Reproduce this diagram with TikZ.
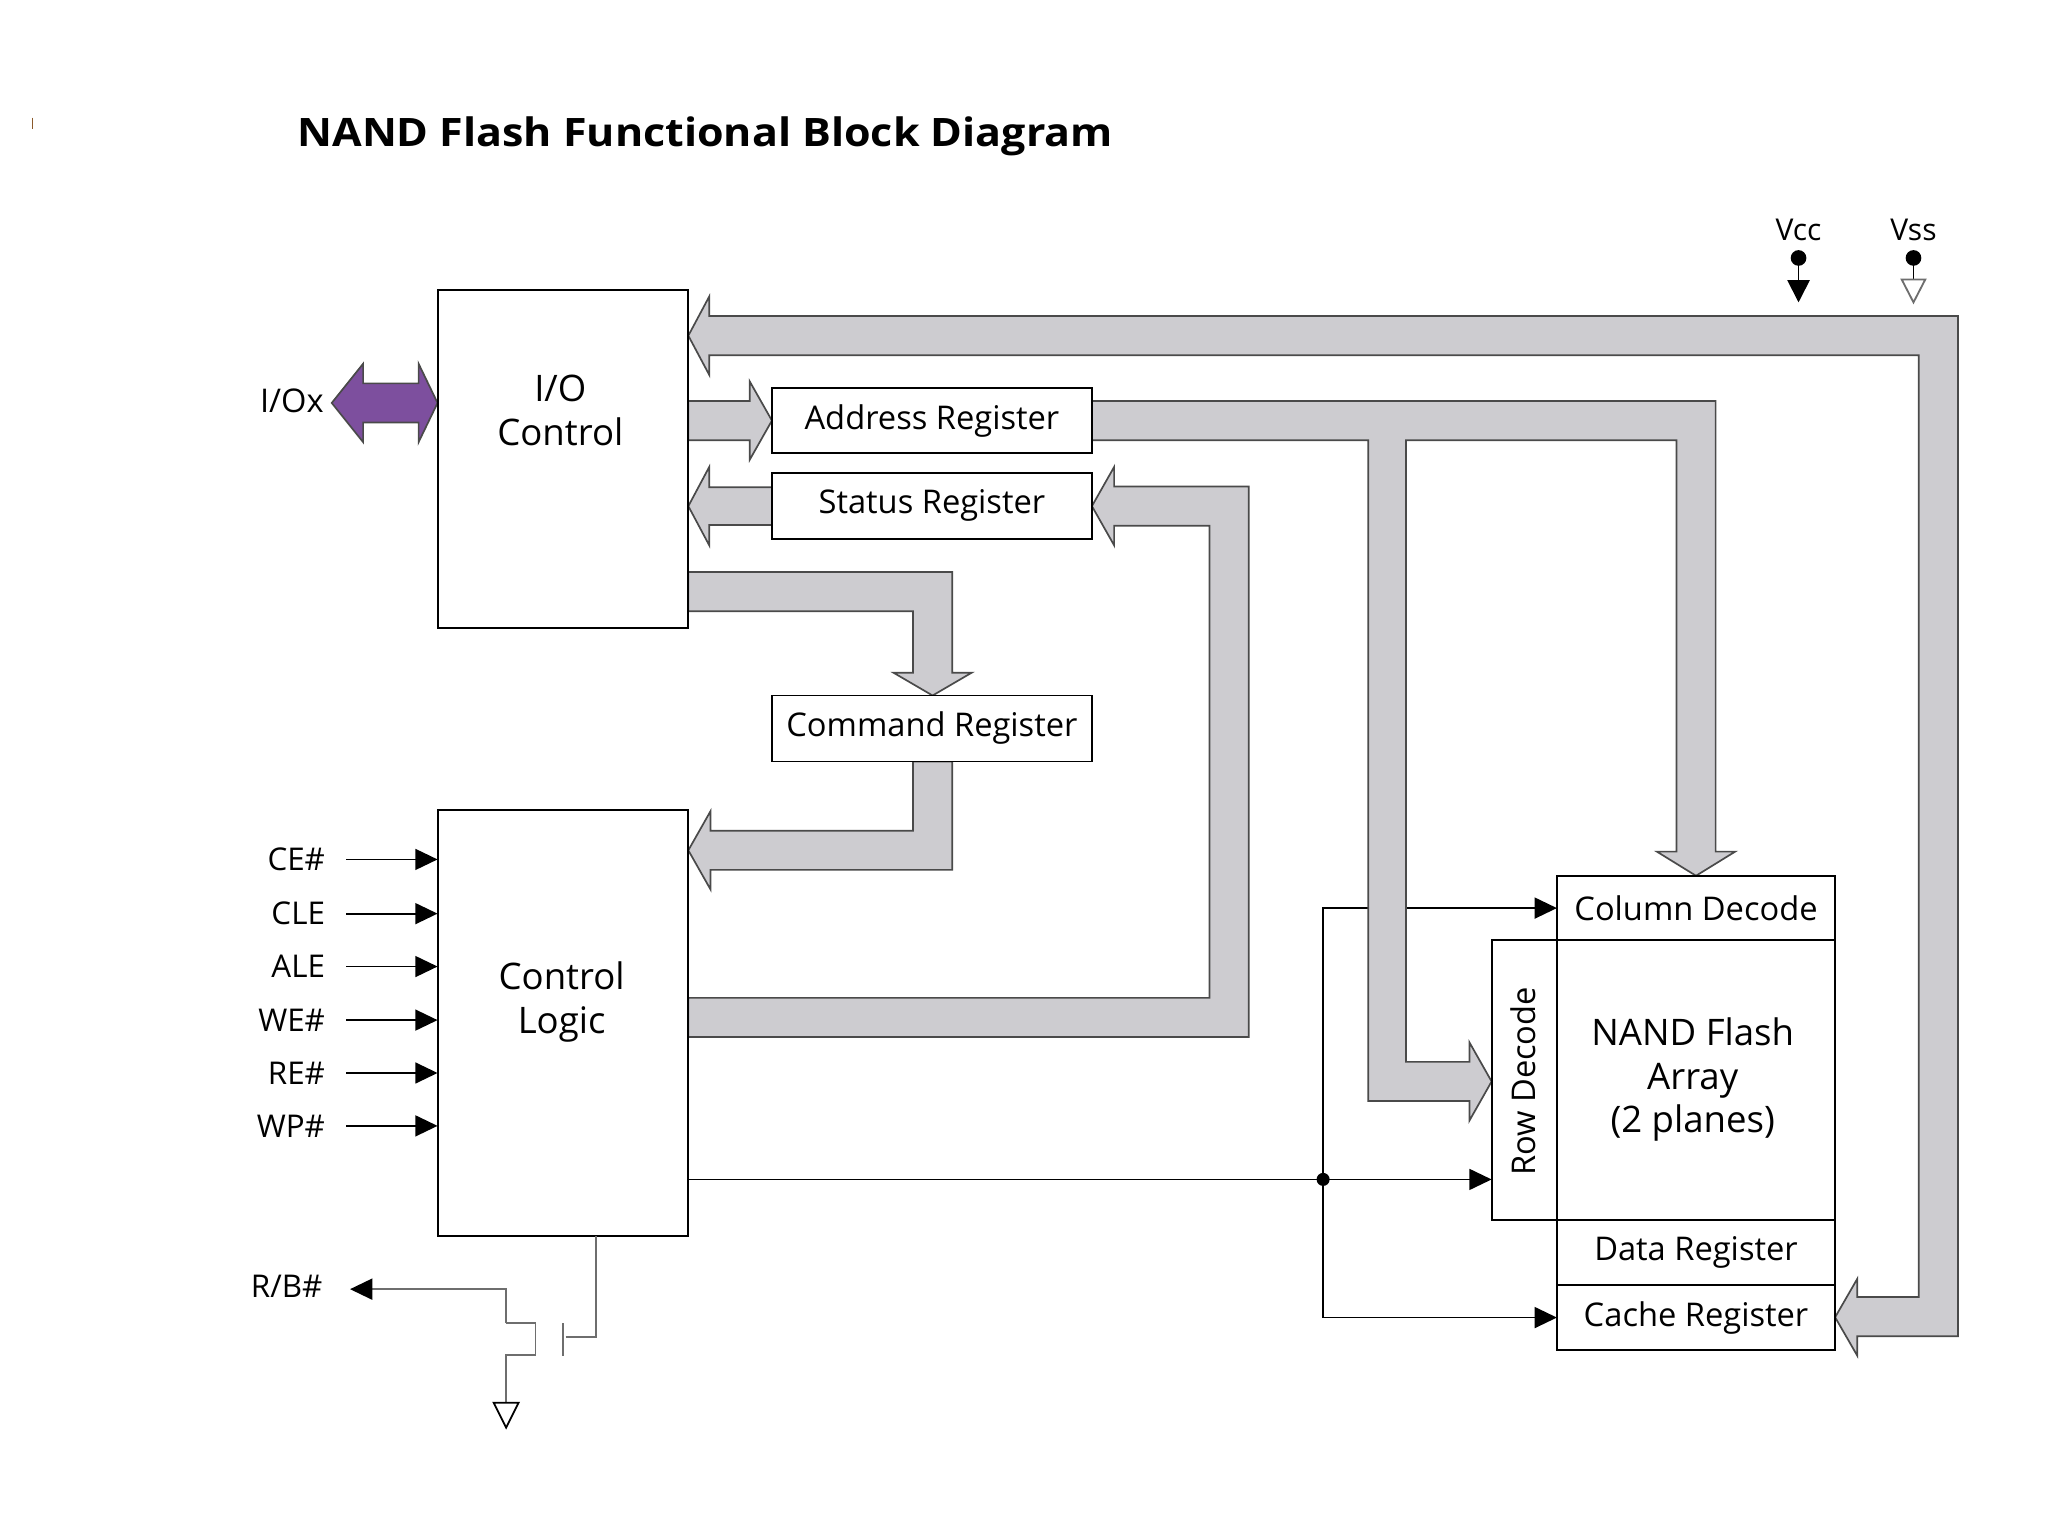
\documentclass[tikz,border=0pt]{standalone}
\usepackage{fontspec}
\setmainfont{Open Sans}
\usetikzlibrary{arrows.meta,calc}
\pgfdeclarelayer{bg}
\pgfsetlayers{bg,main}
\definecolor{busfill}{HTML}{CDCCD0}
\definecolor{busline}{HTML}{4A4A4A}
\definecolor{iopurple}{HTML}{7D4F9E}
\definecolor{wiregray}{HTML}{6E6E6E}
\definecolor{tick}{HTML}{8B5A2B}
\begin{document}
\begin{tikzpicture}[x=1pt,y=-1pt,
  blk/.style={draw=black,line width=1.5pt,fill=white,inner sep=0pt,outer sep=0pt},
  lbl/.style={inner sep=0pt,font=\fontsize{25}{30}\selectfont},
  biglbl/.style={inner sep=0pt,align=center,font=\fontsize{28}{34}\selectfont},
  pinlbl/.style={inner sep=0pt,anchor=east,font=\fontsize{24}{28}\selectfont},
  bus/.style={fill=busfill,draw=busline,line width=1.3pt,line join=miter},
  tip/.style={-{Triangle[length=17pt,width=16pt]}},
  sig/.style={draw=black,line width=1.4pt,tip},
  wire/.style={draw=wiregray,line width=1.5pt},
]
\useasboundingbox (0,0) rectangle (1568,1175);

% ---------- blocks ----------
\node[blk,minimum width=192pt,minimum height=259pt] (io) at (431,351.5) {};
\node[biglbl] (iotext) at (429,314) {I/O\\Control};
\node[blk,minimum width=245pt,minimum height=50pt] (addr) at (713.5,322) {};
\node[lbl] (addrtext) at (713.5,322) {Address Register};
\node[blk,minimum width=245pt,minimum height=50.5pt] (status) at (713.5,387.25) {};
\node[lbl] (statustext) at (713.5,387.25) {Status Register};
\node[blk,minimum width=245pt,minimum height=50.5pt] (cmd) at (713.5,557.75) {};
\node[lbl] (cmdtext) at (713.5,557.75) {Command Register};
\node[blk,minimum width=192pt,minimum height=326pt] (ctrl) at (431,783) {};
\node[biglbl] (ctrltext) at (430,767) {Control\\Logic};

\node[blk,minimum width=213pt,minimum height=49.5pt] (coldec) at (1298.5,695.25) {};
\node[lbl] (coldectext) at (1298.5,695.25) {Column Decode};
\node[blk,minimum width=213pt,minimum height=214pt] (array) at (1298.5,827) {};
\node[biglbl,font=\fontsize{28}{33.5}\selectfont] (arraytext) at (1296,826.5) {NAND Flash\\Array\\(2 planes)};
\node[blk,minimum width=50pt,minimum height=214pt] (rowdec) at (1167,827) {};
\node[lbl,rotate=90] (rowdectext) at (1166,828) {Row Decode};
\node[blk,minimum width=213pt,minimum height=50pt] (datareg) at (1298.5,959) {};
\node[lbl] (datatext) at (1298.5,959) {Data Register};
\node[blk,minimum width=213pt,minimum height=49.5pt] (cachereg) at (1298.5,1008.75) {};
\node[lbl] (cachetext) at (1298.5,1008.75) {Cache Register};

% ---------- title and labels ----------
\node[anchor=base west,inner sep=0pt,font=\bfseries\fontsize{30}{36}\selectfont] (title) at (227.5,112.3) {\scalebox{1.097}[1]{NAND Flash Functional Block Diagram}};
\draw[tick,line width=1.2pt] (25,90) -- (25,99);

\node[pinlbl,font=\fontsize{25}{30}\selectfont] (iox) at (248,307) {I/Ox};
\node[lbl,font=\fontsize{23}{28}\selectfont] (vcc) at (1377,176) {Vcc};
\node[lbl,font=\fontsize{23}{28}\selectfont] (vss) at (1465,176) {Vss};

% ---------- power pins ----------
\coordinate (vccdot) at (1377,197.5);
\coordinate (vssdot) at (1465,197.5);
\fill (vccdot) circle (6pt);
\fill (vssdot) circle (6pt);
\draw[line width=1.4pt,-{Triangle[length=17pt,width=17pt]}] (vccdot) -- ++(0,34);
\draw[line width=1.4pt] (vssdot) -- ++(0,16.5);
\draw[draw=wiregray,line width=1.4pt,line join=miter] (1456,214) -- (1474,214) -- (1465,231.5) -- cycle;

% ---------- control input pins ----------
\node[pinlbl] (lce) at (249,658) {CE\#};
\node[pinlbl] (lcle) at (249,699.5) {CLE};
\node[pinlbl] (lale) at (249,740) {ALE};
\node[pinlbl] (lwe) at (249,781) {WE\#};
\node[pinlbl] (lre) at (249,821.5) {RE\#};
\node[pinlbl] (lwp) at (249,862) {WP\#};
\coordinate (sce) at (265,658);
\coordinate (scle) at (265,699.5);
\coordinate (sale) at (265,740);
\coordinate (swe) at (265,781);
\coordinate (sre) at (265,821.5);
\coordinate (swp) at (265,862);
\draw[sig] (sce) -- (sce -| ctrl.west);
\draw[sig] (scle) -- (scle -| ctrl.west);
\draw[sig] (sale) -- (sale -| ctrl.west);
\draw[sig] (swe) -- (swe -| ctrl.west);
\draw[sig] (sre) -- (sre -| ctrl.west);
\draw[sig] (swp) -- (swp -| ctrl.west);

% ---------- R/B# output transistor ----------
\node[pinlbl] (lrb) at (247,985) {R/B\#};
\coordinate (rbtip) at (268,987);
\coordinate (dr) at (387.5,1013);
\coordinate (gnd) at (387.5,1074);
\coordinate (gate) at (456,1023.5);
\draw[wire,-{Triangle[length=17pt,width=16pt,black]}] (dr) -- (dr |- rbtip) -- (rbtip);
\draw[wire] (dr) -- (410,1013) -- (410,1037.5) -- (387.5,1037.5) -- (gnd);
\draw[draw=black,line width=1.4pt,line join=miter] (378,1074) -- (397,1074) -- (gnd |- 0,1093) -- cycle;
\draw[wire] (431,1013) -- (431,1038);
\draw[wire] (433,1023.5) -- (gate) -- (gate |- ctrl.south);

% ---------- control logic to array ----------
\coordinate (jn) at (1013,903);
\draw[sig] (ctrl.east |- jn) -- (rowdec.west |- jn);
\fill (jn) circle (5pt);

\begin{pgfonlayer}{bg}
\fill[white] (0,0) rectangle (1568,1175);
\draw[line width=1.4pt,{Triangle[length=17pt,width=16pt]}-{Triangle[length=17pt,width=16pt]}]
  (coldec.west) -- (jn |- coldec.west) -- (jn |- cachereg.west) -- (cachereg.west);

% I/Ox purple double arrow
\draw[fill=iopurple,draw=busline,line width=1.3pt,line join=miter]
  (254,308.5) -- (278,278.5) -- (278,293.5) -- (320.5,293.5) -- (320.5,278.5) -- (io.west |- 0,308.5)
  -- (320.5,338.5) -- (320.5,323.5) -- (278,323.5) -- (278,338.5) -- cycle;

% cache register -> I/O control (outer loop)
\draw[bus] (527,257) -- (543,227) -- (543,242) -- (1499,242) -- (1499,1023) -- (1422,1023)
  -- (1422,1038) -- (1405,1008.5) -- (1422,979) -- (1422,993) -- (1469,993) -- (1469,272)
  -- (543,272) -- (543,287) -- cycle;
% I/O -> address register
\draw[bus] (527,307) -- (574,307) -- (574,292) -- (591,322) -- (574,352) -- (574,337) -- (527,337) -- cycle;
% status register -> I/O
\draw[bus] (591,373) -- (543,373) -- (543,357.5) -- (527,387.5) -- (543,417.5) -- (543,402) -- (591,402) -- cycle;
% control logic -> status register
\draw[bus] (527,764) -- (926,764) -- (926,402.5) -- (853,402.5) -- (853,417.5) -- (836,387.5)
  -- (853,357.5) -- (853,372.5) -- (956,372.5) -- (956,794) -- (527,794) -- cycle;
% I/O -> command register
\draw[bus] (527,438) -- (729,438) -- (729,515) -- (744,515) -- (714,532.5) -- (684,515)
  -- (699,515) -- (699,468) -- (527,468) -- cycle;
% command register -> control logic
\draw[bus] (699,583) -- (729,583) -- (729,666) -- (544,666) -- (544,681) -- (527,651)
  -- (544,621) -- (544,636) -- (699,636) -- cycle;
% address register -> column decode and row decode
\draw[bus] (836,307) -- (1313.5,307) -- (1313.5,652) -- (1328.5,652) -- (1298.5,670.5)
  -- (1268.5,652) -- (1283.5,652) -- (1283.5,337) -- (1076.5,337) -- (1076.5,813)
  -- (1125,813) -- (1125,798) -- (1142,828) -- (1125,858) -- (1125,843) -- (1047.5,843)
  -- (1047.5,337) -- (836,337) -- cycle;
\end{pgfonlayer}
\end{tikzpicture}
\end{document}
